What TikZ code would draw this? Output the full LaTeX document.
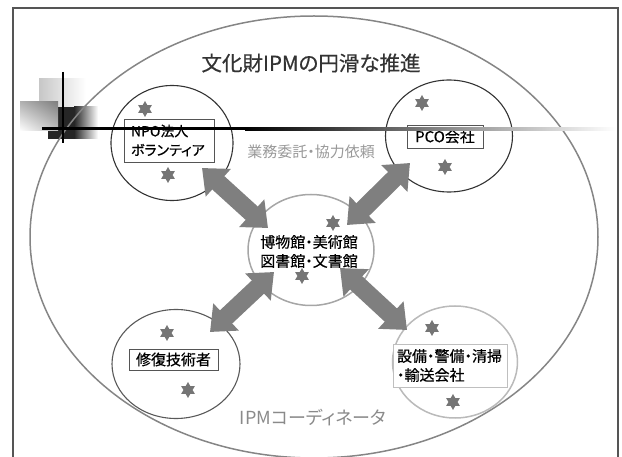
\documentclass[tikz,border=0pt]{standalone}
\usepackage{fontspec}
\setmainfont{Noto Sans CJK JP}[RawFeature={+palt}, FakeBold=0.5]
\newfontfamily\thinfont{Noto Sans CJK JP}[RawFeature={+palt}]
\usetikzlibrary{shapes.geometric,arrows.meta,shadings}
\definecolor{framegray}{HTML}{555555}
\definecolor{ellgray}{HTML}{858585}
\definecolor{arrgray}{HTML}{7F7F7F}
\definecolor{stargray}{HTML}{757575}
\definecolor{titlegray}{HTML}{333333}
\definecolor{lblgray}{HTML}{999999}
\definecolor{lbl2gray}{HTML}{8A8A8A}
\tikzset{
  circ/.style={ellipse, inner sep=0pt, line width=1.1pt},
  boxnode/.style={draw=framegray, fill=white, line width=0.8pt, inner sep=0pt, align=left},
  starnode/.style={star, star points=6, star point ratio=1.75, minimum size=16pt, inner sep=0pt, fill=stargray, draw=none},
  arr/.style={draw=arrgray, line width=18pt, {Triangle[width=36pt,length=22pt]}-{Triangle[width=36pt,length=22pt]}},
  txt/.style={inner sep=0pt, font=\fontsize{15}{19}\selectfont},
}
\begin{document}
\begin{tikzpicture}[x=1pt,y=-1pt]
\useasboundingbox (0,0) rectangle (622,457);
\clip (0,0) rectangle (622,457);
% decorative squares
\shade[left color=black!22, right color=white] (39,79) rectangle (86,107);
\fill[black!85] (48,107) rectangle (74,139);
\shade[left color=black!85, right color=white] (74,107) rectangle (98,139);
\shade[upper right=black!50, upper left=black!30, lower right=black!25, lower left=white] (20,102) rectangle (58,131);
% frame
\draw[framegray, line width=1.2pt] (13,460) -- (13,8) -- (618,8) -- (618,460);
% big ellipse
\node[ellipse, draw=ellgray, line width=1.5pt, minimum width=568pt, minimum height=442pt, inner sep=0pt] (outer) at (314,237) {};
% circles
\node[circ, draw=black!80, minimum width=122pt, minimum height=115pt] (npo) at (172,143) {};
\node[circ, draw=black!80, minimum width=127pt, minimum height=112pt] (pco) at (449,136) {};
\node[circ, draw=black!35, line width=1.5pt, minimum width=126pt, minimum height=111pt] (mus) at (311,250) {};
\node[circ, draw=black!65, minimum width=128pt, minimum height=109pt] (rep) at (176,364) {};
\node[circ, draw=black!27, line width=1.5pt, minimum width=125pt, minimum height=112pt] (fac) at (455,362) {};
% arrows
\coordinate (a1s) at (202,168); \coordinate (a1e) at (268,228);
\coordinate (a2s) at (410,163); \coordinate (a2e) at (347,225);
\coordinate (a3s) at (274,272); \coordinate (a3e) at (210,332);
\coordinate (a4s) at (340,268); \coordinate (a4e) at (407,330);
\draw[arr] (a1s) -- (a1e);
\draw[arr] (a2s) -- (a2e);
\draw[arr] (a3s) -- (a3e);
\draw[arr] (a4s) -- (a4e);
% stars
\node[starnode] (s1) at (145,109) {};
\node[starnode] (s2) at (168,175) {};
\node[starnode] (s3) at (422,103) {};
\node[starnode] (s4) at (445,167) {};
\node[starnode] (s5) at (333,223) {};
\node[starnode] (s6) at (302,276) {};
\node[starnode] (s7) at (167,333) {};
\node[starnode] (s8) at (188,390) {};
\node[starnode] (s9) at (432,328) {};
\node[starnode] (s10) at (453,402) {};
% boxes
\node[boxnode, minimum width=90pt, minimum height=43pt, text width=76pt, font=\fontsize{14}{19}\selectfont] (npobox) at (169,140.5) {NPO法人\\ボランティア};
\node[boxnode, minimum width=76pt, minimum height=23pt, align=center, font=\fontsize{15}{19}\selectfont] (pcobox) at (445,136.5) {PCO会社};
\node[boxnode, minimum width=89pt, minimum height=21pt, align=center, font=\fontsize{15}{19}\selectfont] (repbox) at (173.5,359.5) {修復技術者};
\node[boxnode, draw=black!25, minimum width=114pt, minimum height=43pt, text width=106pt, font=\fontsize{15}{19}\selectfont] (facbox) at (450,365.5) {設備・警備・清掃\\・輸送会社};
% center text
\node[txt, align=center] (mustext) at (309,251.5) {博物館・美術館\\図書館・文書館};
% labels
\node[inner sep=0pt, text=titlegray, font=\fontsize{20.5}{24}\selectfont] (title) at (311,63) {文化財IPMの円滑な推進};
\node[inner sep=0pt, text=lblgray, font=\thinfont\fontsize{15}{19}\selectfont] (lbl1) at (311,152) {業務委託・協力依頼};
\node[inner sep=0pt, text=lbl2gray, font=\thinfont\fontsize{18}{22}\selectfont] (lbl2) at (313,418) {IPMコーディネータ};
% cross lines
\fill[black] (42,127.5) rectangle (245,130.5);
\shade[left color=black, right color=white] (245,127.5) rectangle (616,130.5);
\draw[black, line width=2.5pt] (63,72) -- (63,143);
\end{tikzpicture}
\end{document}
